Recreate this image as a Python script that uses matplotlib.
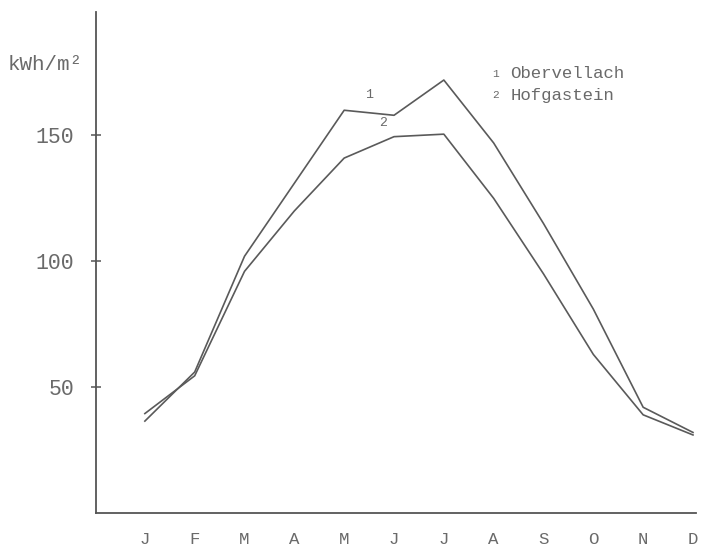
import matplotlib.pyplot as plt

months = ["J", "F", "M", "A", "M", "J", "J", "A", "S", "O", "N", "D"]
obervellach = [36.5, 56, 102, 131, 160, 158, 172, 147, 115, 81, 42, 32]
hofgastein = [39.5, 54.5, 96, 120, 141, 149.5, 150.5, 125, 95, 63, 39, 31]
y_ticks = [50, 100, 150]

line_col = "#5a5a5a"
text_col = "#6a6a6a"
mono = ["Liberation Mono", "DejaVu Sans Mono"]

fig = plt.figure(figsize=(7.03, 5.49), dpi=100)
ax = fig.add_axes([0.1366, 0.0656, 0.8534, 0.9124])

x = list(range(len(months)))
ax.plot(x, obervellach, color=line_col, lw=1.2)
ax.plot(x, hofgastein, color=line_col, lw=1.2)

ax.set_xlim(-0.98, 11.06)
ax.set_ylim(0, 199)

for side in ("top", "right"):
    ax.spines[side].set_visible(False)
for side in ("left", "bottom"):
    ax.spines[side].set_color("#555555")
    ax.spines[side].set_linewidth(1.3)

ax.set_xticks(x)
ax.set_xticklabels(months, family=mono, fontsize=12.5, color=text_col)
ax.tick_params(axis="x", length=0, pad=14)
ax.set_yticks(y_ticks)
ax.set_yticklabels([str(v) for v in y_ticks], family=mono, fontsize=15.5, color=text_col)
ax.tick_params(axis="y", direction="inout", length=7, width=1.1, color="#555555", pad=12)

# unit label above the y axis
fig.text(0.011, 0.882, "kWh/m²", family=mono, fontsize=15, color=text_col, va="center")

# curve markers
ax.text(4.5, 166, "1", family=mono, fontsize=9.5, color=text_col, ha="center", va="center")
ax.text(4.78, 154.8, "2", family=mono, fontsize=9.5, color=text_col, ha="center", va="center")

# key
ax.text(7.03, 174.5, "1", family=mono, fontsize=8, color=text_col, ha="center", va="center")
ax.text(7.34, 174.5, "Obervellach", family=mono, fontsize=12.5, color=text_col, va="center")
ax.text(7.03, 166, "2", family=mono, fontsize=8, color=text_col, ha="center", va="center")
ax.text(7.34, 166, "Hofgastein", family=mono, fontsize=12.5, color=text_col, va="center")

fig.savefig("out.png", dpi=100)
